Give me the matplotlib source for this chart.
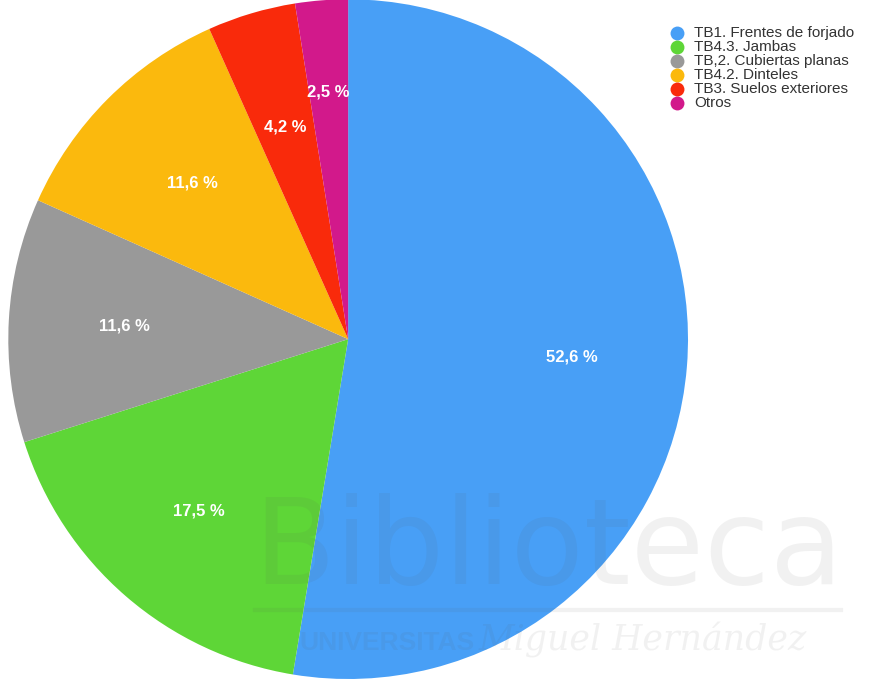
import numpy as np
import matplotlib.pyplot as plt
from matplotlib.lines import Line2D

categories = [
    "TB1. Frentes de forjado",
    "TB4.3. Jambas",
    "TB,2. Cubiertas planas",
    "TB4.2. Dinteles",
    "TB3. Suelos exteriores",
    "Otros",
]
shares = [52.6, 17.5, 11.6, 11.6, 4.2, 2.5]
colors = ["#489ff6", "#5ed637", "#999999", "#fbb90d", "#f92a0b", "#d2198b"]

# radial position of each percentage label (fraction of the radius)
label_r = [0.66, 0.67, 0.66, 0.65, 0.65, 0.73]

plt.rcParams["font.family"] = ["Liberation Sans", "DejaVu Sans"]

fig = plt.figure(figsize=(8.95, 7.0), dpi=100)
ax = fig.add_axes([0.009, 0.03, 0.760, 0.971])

wedges, texts, autotexts = ax.pie(
    shares,
    colors=colors,
    startangle=90,
    counterclock=False,
    autopct=lambda p: f"{p:.1f} %".replace(".", ","),
    pctdistance=0.66,
    wedgeprops=dict(linewidth=0),
    textprops=dict(color="white", fontsize=12, fontweight="bold"),
)
# push labels in or out per slice
for w, t, r in zip(wedges, autotexts, label_r):
    ang = np.deg2rad((w.theta1 + w.theta2) / 2)
    t.set_position((r * np.cos(ang), r * np.sin(ang)))

ax.set_xlim(-1, 1)
ax.set_ylim(-1, 1)
ax.set_aspect("equal")
ax.axis("off")

# legend: round markers stacked at the top right
x_mark, x_text = 677 / 895, 694 / 895
for i, (c, lab) in enumerate(zip(colors, categories)):
    y = 1 - (33 + 14 * i) / 700
    fig.add_artist(Line2D([x_mark], [y], marker="o", markersize=10,
                          markerfacecolor=c, markeredgewidth=0, linestyle=""))
    fig.text(x_text, y, lab, fontsize=11, va="center", ha="left",
             color="#333333")

# faint library watermark
wm = dict(color="#555555", alpha=0.08)
fig.text(0.283, 0.165, "Biblioteca", fontsize=86, family="DejaVu Sans", **wm)
fig.add_artist(Line2D([0.285, 0.94], [0.128, 0.128], linewidth=3, **wm))
fig.text(0.335, 0.072, "UNIVERSITAS", fontsize=19, fontweight="bold", **wm)
fig.text(0.535, 0.07, "Miguel Hernández", fontsize=25, style="italic",
         family="DejaVu Serif", **wm)

fig.savefig("out.png", dpi=100)
